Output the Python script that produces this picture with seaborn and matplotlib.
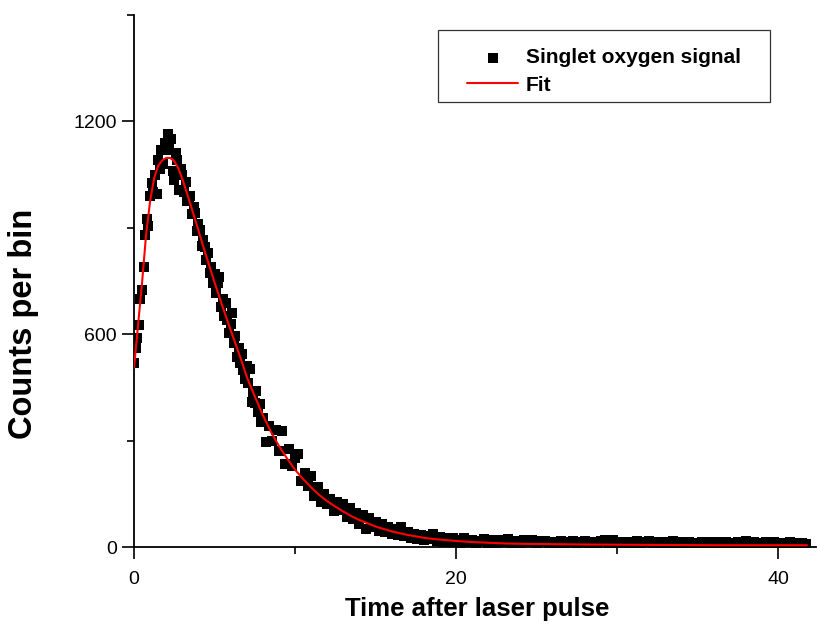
import matplotlib
matplotlib.use("Agg")
import matplotlib.pyplot as plt
from matplotlib.patches import Rectangle
import seaborn as sns
import pandas as pd

# ---- data ----
signal_time = [
    0.0, 0.1, 0.2, 0.3, 0.4, 0.5, 0.6, 0.7, 0.8, 0.9,
    1.0, 1.1, 1.2, 1.3, 1.4, 1.5, 1.6, 1.7, 1.8, 1.9,
    2.0, 2.1, 2.2, 2.3, 2.4, 2.5, 2.6, 2.7, 2.8, 2.9,
    3.0, 3.1, 3.2, 3.3, 3.4, 3.5, 3.6, 3.7, 3.8, 3.9,
    4.0, 4.1, 4.2, 4.3, 4.4, 4.5, 4.6, 4.7, 4.8, 4.9,
    5.0, 5.1, 5.2, 5.3, 5.4, 5.5, 5.6, 5.7, 5.8, 5.9,
    6.0, 6.1, 6.2, 6.3, 6.4, 6.5, 6.6, 6.7, 6.8, 6.9,
    7.0, 7.1, 7.2, 7.3, 7.4, 7.5, 7.6, 7.7, 7.8, 7.9,
    8.0, 8.2, 8.4, 8.6, 8.8, 9.0, 9.2, 9.4, 9.6, 9.8,
    10.0, 10.2, 10.4, 10.6, 10.8, 11.0, 11.2, 11.4, 11.6, 11.8,
    12.0, 12.2, 12.4, 12.6, 12.8, 13.0, 13.2, 13.4, 13.6, 13.8,
    14.0, 14.2, 14.4, 14.6, 14.8, 15.0, 15.2, 15.4, 15.6, 15.8,
    16.0, 16.2, 16.4, 16.6, 16.8, 17.0, 17.2, 17.4, 17.6, 17.8,
    18.0, 18.2, 18.4, 18.6, 18.8, 19.0, 19.2, 19.4, 19.6, 19.8,
    20.0, 20.25, 20.5, 20.75, 21.0, 21.25, 21.5, 21.75,
    22.0, 22.25, 22.5, 22.75, 23.0, 23.25, 23.5, 23.75,
    24.0, 24.25, 24.5, 24.75, 25.0, 25.25, 25.5, 25.75,
    26.0, 26.25, 26.5, 26.75, 27.0, 27.25, 27.5, 27.75,
    28.0, 28.25, 28.5, 28.75, 29.0, 29.25, 29.5, 29.75,
    30.0, 30.25, 30.5, 30.75, 31.0, 31.25, 31.5, 31.75,
    32.0, 32.25, 32.5, 32.75, 33.0, 33.25, 33.5, 33.75,
    34.0, 34.25, 34.5, 34.75, 35.0, 35.25, 35.5, 35.75,
    36.0, 36.25, 36.5, 36.75, 37.0, 37.25, 37.5, 37.75,
    38.0, 38.25, 38.5, 38.75, 39.0, 39.25, 39.5, 39.75,
    40.0, 40.25, 40.5, 40.75, 41.0, 41.25, 41.5, 41.75,
]
signal_counts = [
    520, 560, 590, 625, 700, 725, 790, 880, 925, 905,
    990, 1027, 1000, 1050, 995, 1092, 1065, 1120, 1080, 1140,
    1120, 1165, 1140, 1150, 1060, 1035, 1110, 1090, 1007, 1066,
    1050, 1000, 1030, 975, 979, 990, 940, 960, 941, 890,
    910, 894, 850, 867, 845, 810, 830, 772, 790, 744,
    770, 716, 745, 760, 678, 700, 650, 688, 640, 603,
    630, 660, 575, 595, 537, 560, 520, 545, 499, 475,
    510, 462, 501, 408, 434, 405, 440, 380, 403, 352,
    365, 295, 340, 300, 330, 270, 327, 235, 276, 229,
    250, 262, 185, 210, 173, 200, 145, 170, 126, 149,
    120, 135, 102, 128, 105, 120, 85, 111, 79, 95,
    65, 90, 52, 83, 55, 70, 45, 64, 41, 55,
    36, 50, 33, 55, 32, 42, 25, 36, 23, 34,
    20, 30, 22, 36, 18, 27, 14, 24, 13, 26,
    20, 12, 24, 15, 21, 10, 18, 22,
    12, 19, 9, 20, 14, 22, 11, 17,
    9, 19, 13, 21, 10, 16, 18, 9,
    15, 11, 17, 8, 14, 18, 10, 13,
    16, 9, 14, 11, 17, 20, 12, 19,
    10, 15, 8, 14, 11, 16, 9, 13,
    17, 10, 14, 8, 15, 12, 16, 9,
    13, 11, 15, 8, 12, 14, 10, 13,
    9, 15, 11, 13, 8, 12, 14, 10,
    16, 11, 13, 9, 12, 14, 10, 13,
    8, 12, 11, 13, 9, 11, 10, 8,
]

fit_time = [
    0.0, 0.25, 0.5, 0.75, 1.0, 1.25, 1.5, 1.75, 2.0, 2.25, 2.5, 2.75, 3.0, 3.25, 3.5,
    3.75, 4.0, 4.25, 4.5, 4.75, 5.0, 5.25, 5.5, 5.75, 6.0, 6.25, 6.5, 6.75, 7.0, 7.5,
    8.0, 8.5, 9.0, 9.5, 10.0, 10.5, 11.0, 11.5, 12.0, 12.5, 13.0, 13.5, 14.0, 14.5,
    15.0, 15.5, 16.0, 16.5, 17.0, 17.5, 18.0, 18.5, 19.0, 19.5, 20.0, 21.0, 22.0, 23.0,
    24.0, 26.0, 28.0, 32.0, 36.0, 41.8,
]
fit_counts = [
    505, 625, 745, 880, 975, 1040, 1075, 1090, 1097, 1097, 1088, 1068, 1038, 1003, 967,
    930, 893, 855, 818, 782, 746, 712, 678, 645, 612, 580, 548, 515, 480, 425,
    372, 325, 285, 250, 218, 192, 168, 147, 129, 114, 100, 87, 76, 67,
    58, 51, 44, 39, 34, 30, 26, 23, 21, 19, 17, 14, 12, 10,
    9, 8, 7, 6, 5, 5,
]

x_major = [0, 20, 40]
x_minor = [10, 30]
y_major = [0, 600, 1200]
y_minor = [300, 900, 1500]

signal_df = pd.DataFrame({"t": signal_time, "c": signal_counts})
fit_df = pd.DataFrame({"t": fit_time, "c": fit_counts})

sns.set_style("ticks")
plt.rcParams["font.family"] = ["Liberation Sans", "DejaVu Sans"]
for key in ["text.color", "axes.labelcolor", "xtick.color", "ytick.color", "axes.edgecolor"]:
    plt.rcParams[key] = "black"

W, H = 818, 628
fig = plt.figure(figsize=(W / 100, H / 100), dpi=100)
ax = fig.add_axes([134 / W, 1 - 547 / H, (816 - 134) / W, (547 - 15) / H])

sns.scatterplot(data=signal_df, x="t", y="c", marker="s", s=52, color="black",
                linewidth=0, ax=ax, label="Singlet oxygen signal", zorder=2)
sns.lineplot(data=fit_df, x="t", y="c", color="#ff0000", linewidth=1.5, ax=ax,
             label="Fit", zorder=3)

ax.set_xlim(0, 42.36)
ax.set_ylim(0, 1500)
ax.set_xticks(x_major)
ax.set_xticks(x_minor, minor=True)
ax.set_yticks(y_major)
ax.set_yticks(y_minor, minor=True)
ax.tick_params(which="major", direction="out", length=8.5, width=1.2,
               labelsize=14, colors="black", pad=4)
ax.tick_params(axis="x", which="major", pad=9)
ax.tick_params(which="minor", direction="out", length=5, width=1.2, colors="black")
for side in ["top", "right"]:
    ax.spines[side].set_visible(False)
for side in ["left", "bottom"]:
    ax.spines[side].set_linewidth(1.3)
    ax.spines[side].set_color("black")

ax.set_xlabel("Time after laser pulse", fontsize=18.5, fontweight="bold")
ax.xaxis.set_label_coords(0.503, (547 - 609) / 532)
ax.xaxis.label.set_verticalalignment("center")
ax.set_ylabel("Counts per bin", fontsize=23.5, fontweight="bold")
ax.yaxis.set_label_coords((24 - 134) / 682, (547 - 324) / 532)
ax.yaxis.label.set_verticalalignment("center")

leg = ax.legend(loc="upper left", bbox_to_anchor=(457 / W, 1 - 38 / H),
                bbox_transform=fig.transFigure, frameon=False, borderpad=0,
                handlelength=2.45, handletextpad=0.34, labelspacing=0.4,
                prop={"size": 15, "weight": "bold"}, markerscale=1.0)
fig.patches.append(Rectangle((438 / W, 1 - 102 / H), (770 - 438) / W, (102 - 30) / H,
                             transform=fig.transFigure, fill=False,
                             edgecolor="#333333", linewidth=0.9))

fig.savefig("out.png", dpi=100)
